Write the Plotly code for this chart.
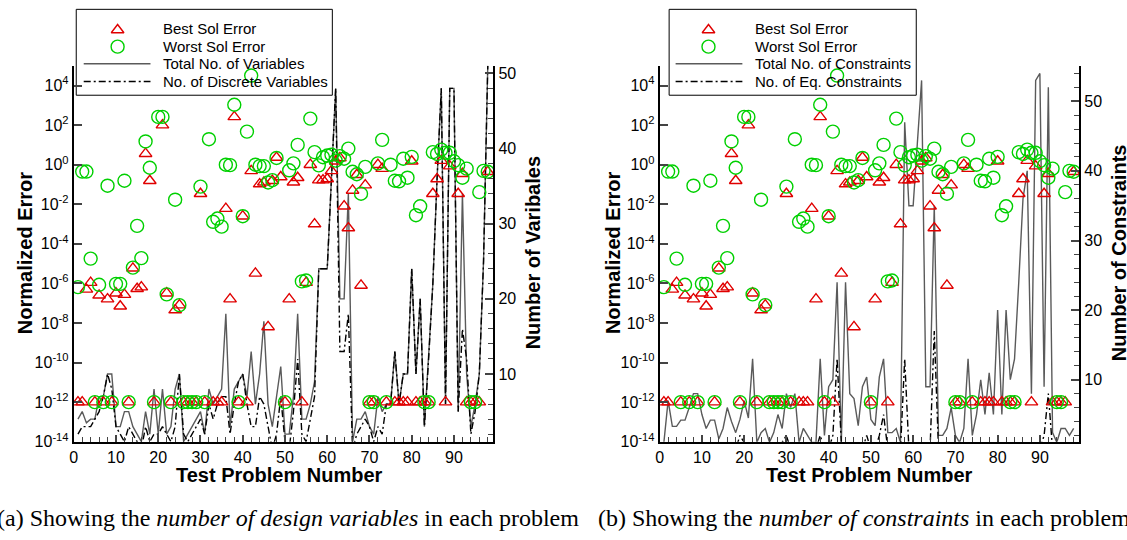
import plotly.graph_objects as go

# Test problem numbers
problems = list(range(1, 99))

# Normalized error of the best and worst solutions (1e-12 marks a zero error)
best_err = [
    1e-12, 1e-12, 5e-7, 1.1e-6, 1e-12, 2.5e-7, 1e-12, 1.6e-7, 1e-12, 3.2e-7,
    7e-8, 2.7e-7, 1e-12, 5.8e-6, 5.4e-7, 6.5e-7, 3.6, 0.155, 1e-12, None,
    100, 3.2e-7, 1e-12, 4.5e-8, 8e-8, 1e-12, 1e-12, 1e-12, 1e-12, 0.034,
    1e-12, None, 1e-12, 1e-12, 1e-12, 0.006, 1.6e-7, 263, 1e-12, 0.0025,
    1e-12, 0.49, 3.2e-6, 0.105, 0.129, 6.3e-9, 0.155, 2.3, 0.24, 1e-12,
    1.6e-7, 0.129, 0.22, 1e-12, 1.1e-6, 1.0, 1e-3, 0.166, 0.166, 0.19,
    0.49, 1.5, 2.2, 0.008, 6.3e-4, 0.05, 0.31, 7.9e-7, 0.093, 1e-12,
    1e-12, 1.0, 0.63, 1e-12, None, 1e-12, 1e-12, 1e-12, 1e-12, 1.5,
    1e-12, 1e-12, 1e-12, 1e-12, 0.034, 0.19, 1.6, 1e-12, 0.85, None,
    0.034, 0.35, 1e-12, 1e-12, 1e-12, 1e-12, None, 0.44,
]
worst_err = [
    6.5e-7, 0.45, 0.45, 1.8e-5, 1e-12, 8.5e-7, 1e-12, 0.087, 1e-12, 9.5e-7,
    9.5e-7, 0.155, 1e-12, 6.3e-6, 8.1e-4, 1.9e-5, 15, 0.7, 1e-12, 260,
    260, 2.8e-7, 1e-12, 0.017, 8e-8, 1e-12, 1e-12, 1e-12, 1e-12, 0.078,
    1e-12, 19.5, 1.3e-3, 1.9e-3, 7.4e-4, 1.0, 0.95, 1070, 1e-12, 2.5e-3,
    47, 3.2e4, 1.0, 0.85, 0.85, 0.126, 0.166, 2.2, None, 1e-12,
    0.52, 1.17, 10, 1.26e-6, 1.4e-6, 214, 4.3, 0.93, 2.4, 2.9,
    3.2, 1.6, 2.7, 2.0, 6.5, 0.44, 0.33, 0.034, 0.78, 1e-12,
    1e-12, 1.17, 18, 1e-12, 1.0, 0.155, 0.145, 2.0, 0.22, 2.5,
    2.8e-3, 7.9e-3, 1e-12, 1e-12, 4.3, 3.5, 5.8, 4.0, 4.0, 1.5,
    0.95, 0.22, 0.63, 1e-12, 1e-12, 0.041, 0.49, 0.44,
]

# Problem sizes
total_vars = [
    4, 5, 3.5, 4, 4, 7, 7, 10, 10, 3,
    3, 5, 5, 3, 2, 1, 5, 2, 8, 2,
    8, 2, 3, 8, 10, 1, 2, 3, 4, 5,
    2, 8, 6, 7, 8, 18, 3, 8, 9, 10,
    7, 13, 6, 10, 17, 6, 3, 7, 11, 2,
    2, 7, 18, 4, 4, 6, 9, 24, 24, 24,
    36, 48, 20, 20, 34, 1, 4, 4, 5, 3,
    2, 7, 5, 6, 6, 13, 6, 10, 10, 24,
    10, 20, 3, 12, 22, 36, 48, 6, 48, 48,
    5, 34, 10, 3, 6, 10, 25, 51,
]
discrete_vars = [
    2, 3, 3, 3, 4, 5, 7, 10, 8, 3,
    2, 1, 3, 2, 1, 0, 3, 1, 2, 2,
    3, 2, 1, 3, 10, 2, 1, 2, 3, 4,
    2, 6, 4, 6, 7, 7, 2, 6, 9, 10,
    6, 3, 3, 7, 6, 3, 0, 2, 7, 1,
    0, 5, 12, 2, 1, 4, 7, 24, 24, 24,
    36, 48, 13, 13, 18, 0, 2, 3, 4, 3,
    1, 3, 2, 6, 6, 13, 6, 10, 10, 24,
    10, 20, 3, 12, 22, 36, 48, 6, 48, 48,
    5, 16, 12, 2, 5, 10, 25, 51,
]
total_cons = [
    1, 7, 3.3, 3.3, 4.2, 4.2, 6, 8, 8, 5,
    3, 4.2, 4.2, 1.5, 3, 6, 4, 2.4, 4.3, 7,
    4.5, 13, 1, 2.4, 3, 1, 2.4, 5, 3, 8,
    6, 8, 1, 3, 2, 1, 1, 13, 2, 9,
    10, 24, 1, 24, 8, 7.3, 3.4, 9, 10.4, 4.3,
    3.4, 10.4, 13, 2.4, 2.4, 3, 1, 47, 35, 35,
    44, 53, 9, 9, 35, 2, 2, 3, 6, 2,
    1, 3, 13, 2, 5, 10, 5, 11, 5, 20,
    5, 20, 10, 13, 24, 36, 40, 8, 53, 54,
    9, 52, 2.4, 1, 3, 3, 2, 3,
]
eq_cons = [
    0, 0, 0, 0, 0, 0, 0, 0, 0, 0,
    0, 0, 0, 0, 0, 0, 0, 0, 2, 1,
    0, 0, 0, 0, 0, 0, 0, 0, 1, 2,
    0, 0, 0, 0, 0, 0, 0, 2, 0, 0,
    2, 13, 1, 0, 0, 0, 0, 0, 2, 0,
    0, 2, 5, 0, 0, 0, 0, 13, 0, 0,
    0, 0, 0, 0, 17, 0, 0, 0, 0, 0,
    0, 0, 0, 0, 0, 0, 0, 0, 0, 0,
    0, 0, 0, 0, 0, 0, 0, 0, 0, 0,
    2, 8, 0, 0, 0, 0, 1, 0,
]

W, H = 1127, 540
FONT = "Liberation Sans"
SERIF = "Liberation Serif"
RED = "#e00000"
GREEN = "#00d000"
GRAY = "#5a5a5a"
DASHDOT = "7px,3px,2px,3px"

def px(x):
    return x / W

def py(y):
    return 1 - y / H

tri = dict(symbol="triangle-up-open", size=11, color=RED, line=dict(width=1.4, color=RED))
circ = dict(symbol="circle-open", size=13, color=GREEN, line=dict(width=1.4, color=GREEN))

fig = go.Figure()

panels = [
    dict(x="x", ylin="y", ylog="y2", size=total_vars, sub=discrete_vars,
         size_name="Total No. of Variables", sub_name="No. of Discrete Variables"),
    dict(x="x2", ylin="y3", ylog="y4", size=total_cons, sub=eq_cons,
         size_name="Total No. of Constraints", sub_name="No. of Eq. Constraints"),
]

for p in panels:
    fig.add_trace(go.Scatter(x=problems, y=p["size"], xaxis=p["x"], yaxis=p["ylin"],
                             mode="lines", line=dict(color=GRAY, width=1.4),
                             name=p["size_name"], showlegend=False))
    fig.add_trace(go.Scatter(x=problems, y=p["sub"], xaxis=p["x"], yaxis=p["ylin"],
                             mode="lines", line=dict(color="black", width=1.4, dash=DASHDOT),
                             name=p["sub_name"], showlegend=False))
    fig.add_trace(go.Scatter(x=problems, y=best_err, xaxis=p["x"], yaxis=p["ylog"],
                             mode="markers", name="Best Sol Error", showlegend=False, marker=tri))
    fig.add_trace(go.Scatter(x=problems, y=worst_err, xaxis=p["x"], yaxis=p["ylog"],
                             mode="markers", name="Worst Sol Error", showlegend=False, marker=circ))

# Legend glyphs drawn on a full-figure pixel axis
legends = [
    dict(x0=72.5, x1=329.5, mx=114, l0=80, l1=147, tx=158,
         names=["Best Sol Error", "Worst Sol Error", "Total No. of Variables", "No. of Discrete Variables"]),
    dict(x0=667.5, x1=915.5, mx=707, l0=674, l1=741, tx=752,
         names=["Best Sol Error", "Worst Sol Error", "Total No. of Constraints", "No. of Eq. Constraints"]),
]
rows = [28.5, 46.5, 64, 82]
shapes = []
annotations = []
for lg in legends:
    fig.add_trace(go.Scatter(x=[lg["mx"]], y=[rows[0] + 1], xaxis="x3", yaxis="y5", mode="markers",
                             showlegend=False, hoverinfo="skip", marker=tri))
    fig.add_trace(go.Scatter(x=[lg["mx"]], y=[rows[1]], xaxis="x3", yaxis="y5", mode="markers",
                             showlegend=False, hoverinfo="skip", marker=circ))
    fig.add_trace(go.Scatter(x=[lg["l0"], lg["l1"]], y=[rows[2], rows[2]], xaxis="x3", yaxis="y5",
                             mode="lines", showlegend=False, hoverinfo="skip",
                             line=dict(color=GRAY, width=1.4)))
    fig.add_trace(go.Scatter(x=[lg["l0"], lg["l1"]], y=[rows[3], rows[3]], xaxis="x3", yaxis="y5",
                             mode="lines", showlegend=False, hoverinfo="skip",
                             line=dict(color="black", width=1.4, dash=DASHDOT)))
    shapes.append(dict(type="rect", xref="paper", yref="paper", layer="below",
                       x0=px(lg["x0"]), x1=px(lg["x1"]), y0=py(96), y1=py(8.5),
                       line=dict(color="black", width=1)))
    for r, name in zip(rows, lg["names"]):
        annotations.append(dict(text=name, xref="paper", yref="paper", x=px(lg["tx"]), y=py(r),
                                xanchor="left", yanchor="middle", showarrow=False,
                                font=dict(family=FONT, size=15, color="black")))

# Axis titles and captions
for cx, title in [(276, "Test Problem Number"), (869, "Test Problem Number")]:
    annotations.append(dict(text="<b>" + title + "</b>", xref="paper", yref="paper",
                            x=px(cx), y=py(483), xanchor="center", yanchor="middle",
                            showarrow=False, font=dict(family=FONT, size=20, color="black")))
for cx, title in [(21, "Normalized Error"), (611, "Normalized Error"),
                  (531, "Number of Varibales"), (1119, "Number of Constraints")]:
    annotations.append(dict(text="<b>" + title + "</b>", xref="paper", yref="paper",
                            x=px(cx), y=py(257), xanchor="center", yanchor="middle",
                            textangle=-90, showarrow=False,
                            font=dict(family=FONT, size=20, color="black")))
annotations.append(dict(text="(a) Showing the <i>number of design variables</i> in each problem",
                        xref="paper", yref="paper", x=px(-9), y=py(527), xanchor="left",
                        yanchor="middle", showarrow=False,
                        font=dict(family=SERIF, size=24, color="black")))
annotations.append(dict(text="(b) Showing the <i>number of constraints</i> in each problem",
                        xref="paper", yref="paper", x=px(594), y=py(527), xanchor="left",
                        yanchor="middle", showarrow=False,
                        font=dict(family=SERIF, size=24, color="black")))

log_vals = [10.0 ** k for k in range(-14, 5, 2)]
log_text = ["10<sup>%d</sup>" % k for k in range(-14, 5, 2)]

tickfont = dict(family=FONT, size=16, color="black")
xcommon = dict(range=[0, 99.3], tickvals=list(range(0, 100, 10)), ticks="inside", ticklen=7,
               tickwidth=1.5, showline=True, linewidth=2, linecolor="black", showgrid=False,
               zeroline=False, tickfont=tickfont,
               minor=dict(dtick=2, ticks="inside", ticklen=5, tickwidth=1.2, showgrid=False))
logcommon = dict(type="log", range=[-14, 5], tickvals=log_vals, ticktext=log_text, side="left",
                 ticks="inside", ticklen=8, tickwidth=1.5, showline=True, linewidth=2,
                 linecolor="black", showgrid=False, zeroline=False, tickfont=tickfont)
lincommon = dict(side="right", tickvals=[10, 20, 30, 40, 50], ticks="inside", ticklen=8,
                 tickwidth=1.5, showline=True, linewidth=2, linecolor="black", showgrid=False,
                 zeroline=False, tickfont=tickfont,
                 minor=dict(dtick=2, tick0=0, ticks="inside", ticklen=5, tickwidth=1.2, showgrid=False))

dom_y = [py(449), py(66)]
fig.update_layout(
    width=W, height=H, margin=dict(l=0, r=0, t=0, b=0),
    paper_bgcolor="white", plot_bgcolor="rgba(0,0,0,0)", showlegend=False,
    xaxis=dict(domain=[px(70), px(491)], anchor="y", **xcommon),
    xaxis2=dict(domain=[px(658), px(1079)], anchor="y3", **xcommon),
    yaxis=dict(domain=dom_y, anchor="x", range=[1, 51], **lincommon),
    yaxis2=dict(anchor="x", overlaying="y", **logcommon),
    yaxis3=dict(domain=dom_y, anchor="x2", range=[1.1, 55.1], **lincommon),
    yaxis4=dict(anchor="x2", overlaying="y3", **logcommon),
    xaxis3=dict(domain=[0, 1], range=[0, W], visible=False, fixedrange=True),
    yaxis5=dict(domain=[0, 1], range=[H, 0], visible=False, fixedrange=True, anchor="x3"),
    shapes=shapes, annotations=annotations,
)

fig.write_html("out.html")
